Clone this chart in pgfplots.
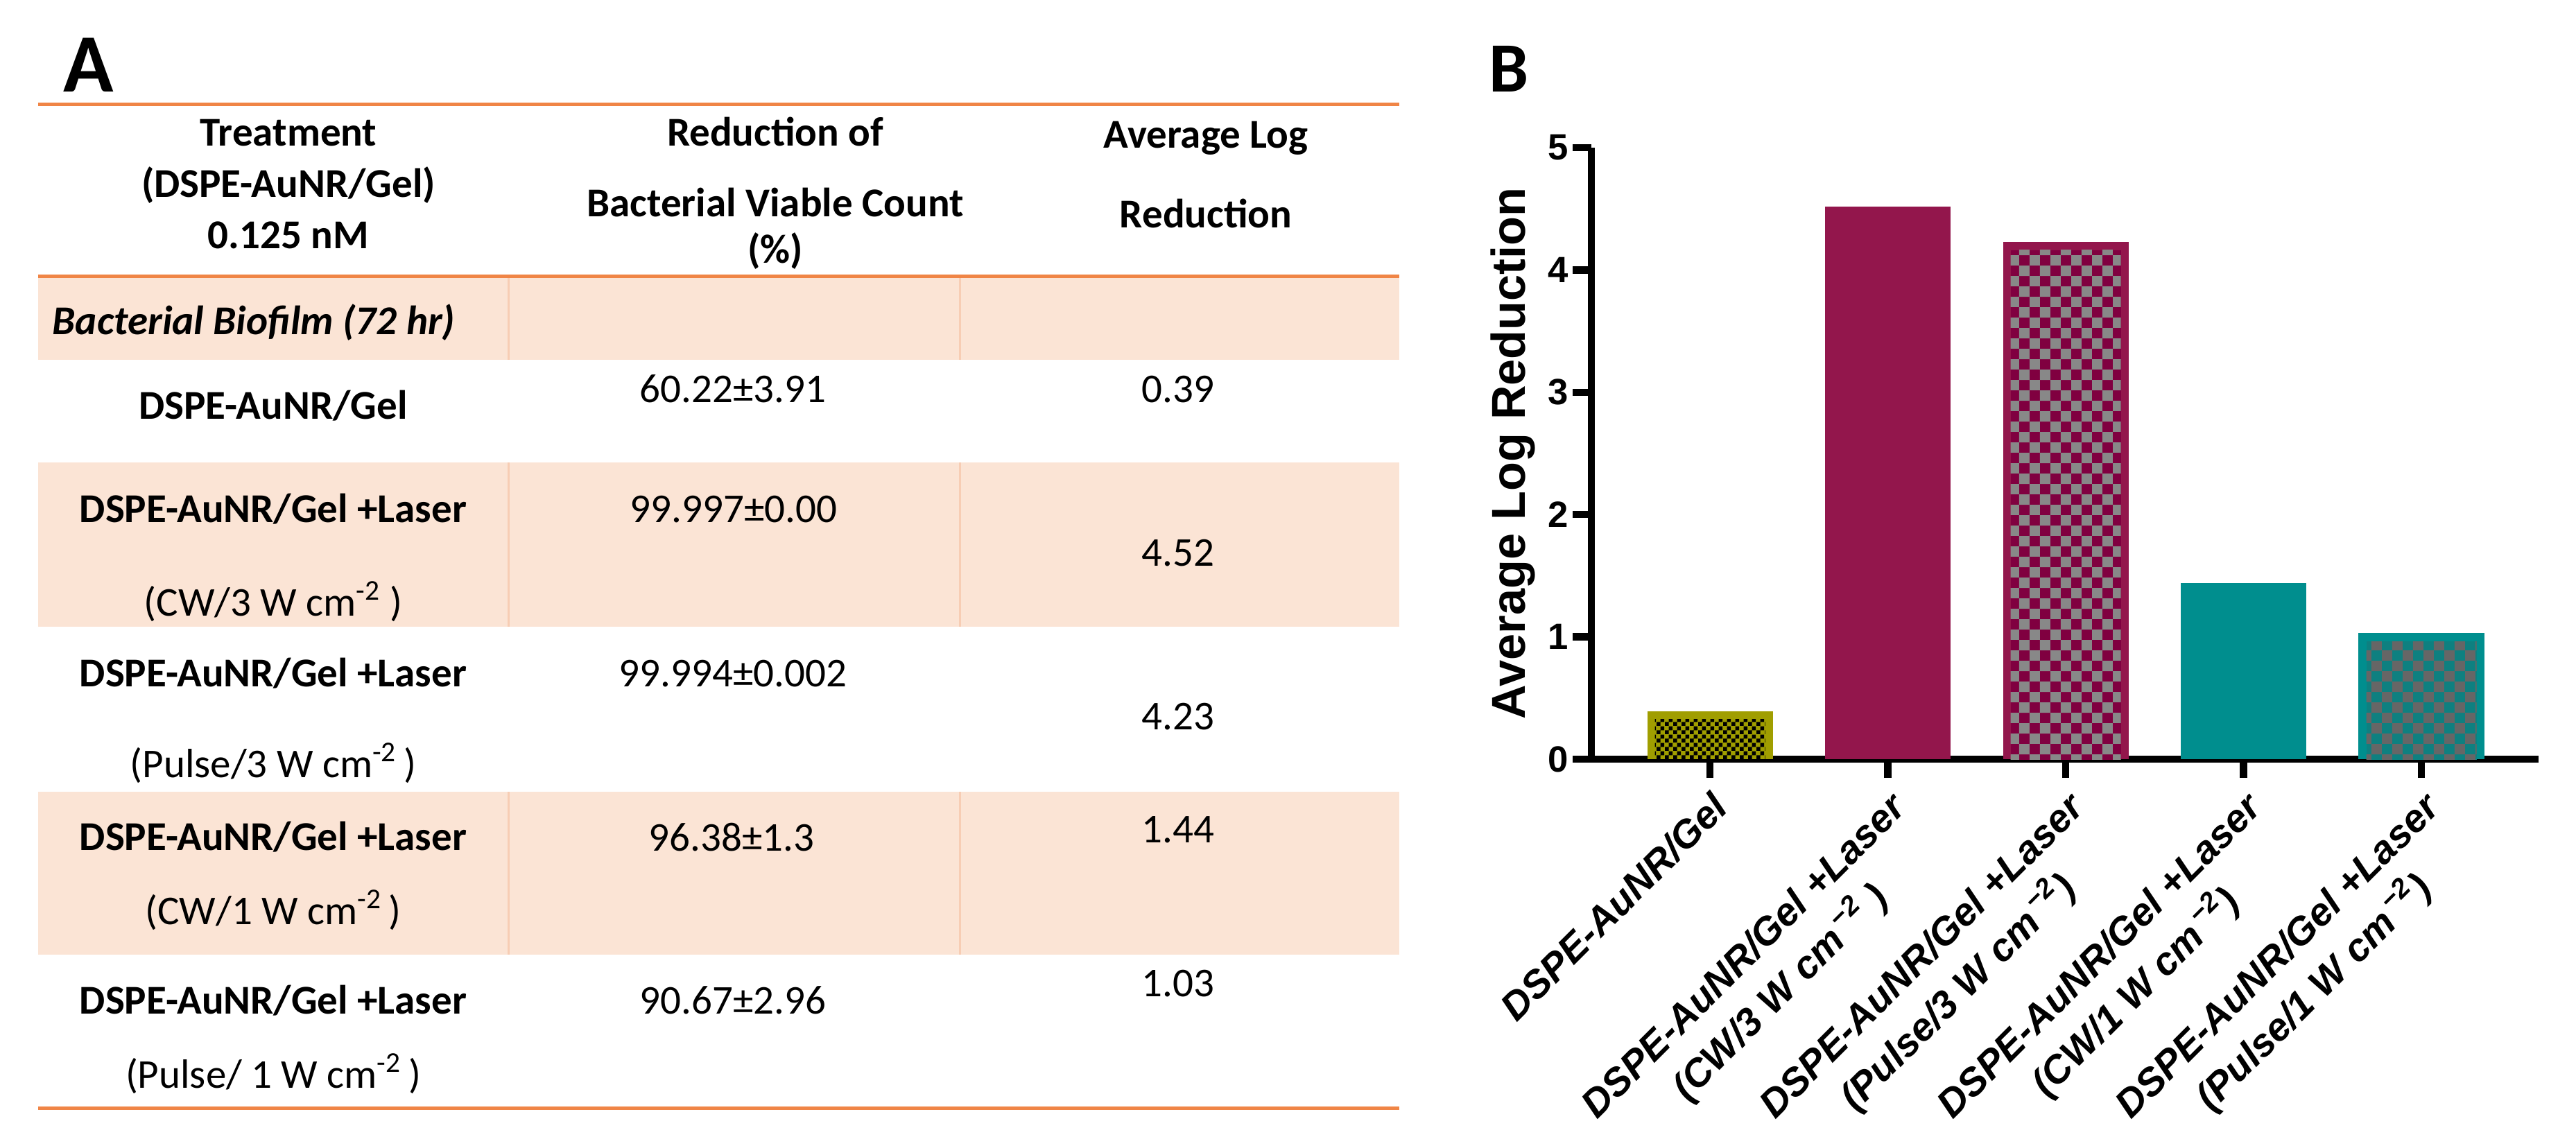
\documentclass[border=0pt]{standalone}
\usepackage{fontspec}
\setmainfont{Carlito}
\newfontfamily\arial{Liberation Sans}
\usepackage{pgfplots}
\pgfplotsset{compat=1.18}
\usetikzlibrary{patterns}

% checkerboards for the "+ pulse" bars
\pgfdeclarepatternformonly{bigcheck}{\pgfpointorigin}{\pgfqpoint{8.5pt}{8.5pt}}{\pgfqpoint{8.5pt}{8.5pt}}{%
  \pgfpathrectangle{\pgfpointorigin}{\pgfqpoint{4.25pt}{4.25pt}}%
  \pgfpathrectangle{\pgfqpoint{4.25pt}{4.25pt}}{\pgfqpoint{4.25pt}{4.25pt}}%
  \pgfusepath{fill}}
\pgfdeclarepatternformonly{smallcheck}{\pgfpointorigin}{\pgfqpoint{3.3pt}{3.3pt}}{\pgfqpoint{3.3pt}{3.3pt}}{%
  \pgfpathrectangle{\pgfpointorigin}{\pgfqpoint{1.65pt}{1.65pt}}%
  \pgfpathrectangle{\pgfqpoint{1.65pt}{1.65pt}}{\pgfqpoint{1.65pt}{1.65pt}}%
  \pgfusepath{fill}}

\definecolor{lineor}{RGB}{240,133,70}
\definecolor{rowshade}{RGB}{251,228,213}
\definecolor{divid}{RGB}{247,205,180}
\definecolor{olivebar}{RGB}{160,158,0}
\definecolor{maroonbar}{RGB}{147,22,76}
\definecolor{maroondark}{RGB}{128,0,64}
\definecolor{tealbar}{RGB}{0,142,142}
\definecolor{tealdark}{RGB}{14,128,128}
\definecolor{graysq}{RGB}{136,136,136}
\definecolor{graysqb}{RGB}{102,102,102}

\newcommand\tb{\fontsize{16.8pt}{19pt}\selectfont}

\begin{document}
\begin{tikzpicture}
\useasboundingbox (0,0) rectangle (371.5mm,-164mm);

% ---- panel A: the table (1 unit = 1 px of the reference)
\begin{scope}[x=0.1mm,y=-0.1mm,every node/.style={inner sep=0pt}]
  \fill[rowshade] (55,398) rectangle (2018,519);
  \fill[rowshade] (55,667) rectangle (2018,904);
  \fill[rowshade] (55,1142) rectangle (2018,1377);
  \foreach \a/\b in {398/519,667/904,1142/1377}{
    \draw[divid, line width=0.3mm] (733,\a) -- (733,\b);
    \draw[divid, line width=0.3mm] (1384,\a) -- (1384,\b);
  }
  \draw[lineor, line width=0.5mm] (55,151) -- (2018,151);
  \draw[lineor, line width=0.5mm] (55,398) -- (2018,398);
  \draw[lineor, line width=0.5mm] (55,1598) -- (2018,1598);

  \node[anchor=base west, font=\fontsize{34pt}{34pt}\selectfont\bfseries] at (91,133) {A};

  \begin{scope}[every node/.append style={anchor=base, font=\tb\bfseries}]
    \node at (416,211) {Treatment};
    \node at (416,285) {(DSPE-AuNR/Gel)};
    \node at (416,358) {0.125 nM};
    \node at (1118,211) {Reduction of};
    \node at (1118,312) {Bacterial Viable Count};
    \node at (1118,379) {(\%)};
    \node at (1739,214) {Average Log};
    \node at (1739,328) {Reduction};
    \node at (394,604) {DSPE-AuNR/Gel};
    \node at (394,753) {DSPE-AuNR/Gel +Laser};
    \node at (394,990) {DSPE-AuNR/Gel +Laser};
    \node at (394,1226) {DSPE-AuNR/Gel +Laser};
    \node at (394,1462) {DSPE-AuNR/Gel +Laser};
  \end{scope}
  \node[anchor=base west, font=\tb\bfseries\itshape] at (75,482) {Bacterial Biofilm (72 hr)};

  \begin{scope}[every node/.append style={anchor=base, font=\tb}]
    \node at (1057,580) {60.22±3.91};
    \node at (1699,580) {0.39};
    \node at (1058,753) {99.997±0.00};
    \node at (1699,816) {4.52};
    \node at (394,888) {(CW/3 W cm\textsuperscript{-2} )};
    \node at (1057,990) {99.994±0.002};
    \node at (1699,1052) {4.23};
    \node at (394,1121) {(Pulse/3 W cm\textsuperscript{-2}\,)};
    \node at (1055,1227) {96.38±1.3};
    \node at (1699,1215) {1.44};
    \node at (394,1333) {(CW/1 W cm\textsuperscript{-2}\,)};
    \node at (1057,1462) {90.67±2.96};
    \node at (1699,1437) {1.03};
    \node at (394,1569) {(Pulse/ 1 W cm\textsuperscript{-2}\,)};
  \end{scope}

  \node[anchor=base west, font=\fontsize{29pt}{29pt}\selectfont\bfseries] at (2147,133) {B};
\end{scope}

% ---- panel B: the bar chart
\begin{axis}[
    at={(229.5mm,-109.5mm)}, anchor=south west,
    scale only axis, width=136.6mm, height=88.2mm,
    xmin=-0.667, xmax=4.659, ymin=0, ymax=5,
    axis x line=bottom, axis y line=left,
    axis line style={-, line width=1.05mm, black},
    x axis line style={shorten <=-2.6mm},
    tick align=outside, major tick length=2.7mm,
    tick style={line width=1.05mm, black},
    xtick={0,1,2,3,4}, ytick={0,1,2,3,4,5},
    xticklabels={
      {DSPE-AuNR/Gel},
      {DSPE-AuNR/Gel +Laser\\(CW/3 W cm\textsuperscript{\,−2} )},
      {DSPE-AuNR/Gel +Laser\\(Pulse/3 W cm\textsuperscript{\,−2})},
      {DSPE-AuNR/Gel +Laser\\(CW/1 W cm\textsuperscript{\,−2})},
      {DSPE-AuNR/Gel +Laser\\(Pulse/1 W cm\textsuperscript{\,−2})}},
    xticklabel style={rotate=45, anchor=north east, align=center,
      font=\arial\bfseries\itshape\fontsize{16pt}{21pt}\selectfont},
    yticklabel style={font=\arial\bfseries\fontsize{15pt}{15pt}\selectfont, inner sep=0.6mm},
    /pgf/number format/assume math mode=true,
    ylabel={Average Log Reduction},
    ylabel style={at={(rel axis cs:-0.0703,0.5)}, anchor=base,
      font=\arial\bfseries\fontsize{19.5pt}{20pt}\selectfont},
  ]
  % solid bars
  \addplot[ybar, bar shift=0pt, bar width=0.706, draw=none, fill=olivebar] coordinates {(0,0.39)};
  \addplot[ybar, bar shift=0pt, bar width=0.706, draw=none, fill=maroonbar] coordinates {(1,4.52)};
  \addplot[ybar, bar shift=0pt, bar width=0.706, draw=none, fill=maroonbar] coordinates {(2,4.23)};
  \addplot[ybar, bar shift=0pt, bar width=0.706, draw=none, fill=tealbar] coordinates {(3,1.44)};
  \addplot[ybar, bar shift=0pt, bar width=0.706, draw=none, fill=tealbar] coordinates {(4,1.03)};
  % checkered insides
  \addplot[ybar, bar shift=0pt, bar width=0.62, draw=none, yshift=-1.1mm,
    pattern=smallcheck, pattern color=black] coordinates {(0,0.39)};
  \addplot[ybar, bar shift=0pt, bar width=0.62, draw=none, yshift=-1.2mm,
    fill=maroondark, postaction={pattern=bigcheck, pattern color=graysq}] coordinates {(2,4.23)};
  \addplot[ybar, bar shift=0pt, bar width=0.62, draw=none, yshift=-1.2mm,
    fill=tealdark, postaction={pattern=bigcheck, pattern color=graysqb}] coordinates {(4,1.03)};
\end{axis}
\end{tikzpicture}
\end{document}
